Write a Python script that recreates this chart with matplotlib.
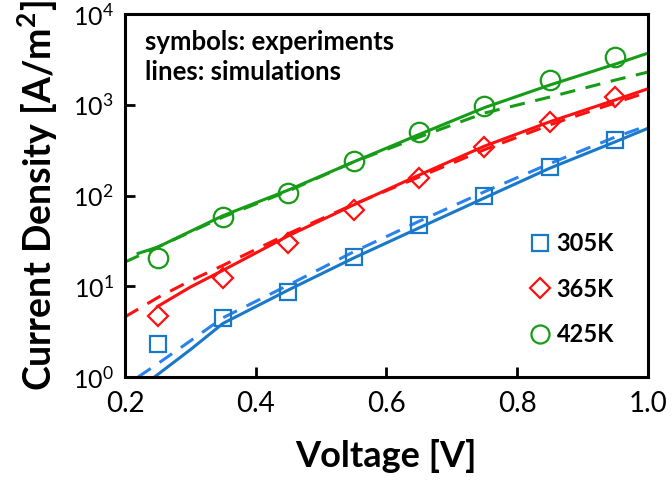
import matplotlib
matplotlib.use("Agg")
import matplotlib.pyplot as plt
from matplotlib.lines import Line2D

plt.rcParams["font.family"] = ["Lato", "DejaVu Sans"]
plt.rcParams["mathtext.fontset"] = "custom"
plt.rcParams["mathtext.rm"] = "Lato"
plt.rcParams["mathtext.bf"] = "Lato:bold"

# Experiments (symbols)
v_exp = [0.25, 0.35, 0.45, 0.55, 0.65, 0.75, 0.85, 0.95]
j_305 = [2.3, 4.5, 8.6, 21, 47, 100, 206, 409]
j_365 = [4.7, 12.3, 30, 69, 156, 342, 645, 1217]
j_425 = [20.5, 58, 107, 240, 500, 968, 1870, 3360]

# Simulations (solid and dashed lines)
v_305_solid = [0.245, 0.30, 0.35, 0.45, 0.55, 0.65, 0.75, 0.85, 0.95, 1.0]
j_305_solid = [1.0, 2.0, 3.9, 9.1, 20.5, 44, 94, 200, 390, 550]
v_305_dash = [0.22, 0.25, 0.30, 0.35, 0.45, 0.55, 0.65, 0.75, 0.85, 0.95, 1.0]
j_305_dash = [1.0, 1.4, 2.5, 4.5, 10.3, 24, 52, 110, 225, 440, 590]

v_365_solid = [0.25, 0.30, 0.35, 0.45, 0.55, 0.65, 0.75, 0.85, 0.95, 1.0]
j_365_solid = [6.0, 9.8, 15, 36, 79, 168, 350, 650, 1130, 1500]
v_365_dash = [0.20, 0.25, 0.30, 0.35, 0.45, 0.55, 0.65, 0.75, 0.85, 0.95, 1.0]
j_365_dash = [4.6, 7.5, 11.5, 17, 38, 80, 160, 320, 600, 1050, 1380]

v_425_solid = [0.22, 0.25, 0.35, 0.45, 0.55, 0.65, 0.75, 0.85, 0.95, 1.0]
j_425_solid = [23, 27, 60, 115, 235, 470, 930, 1650, 2800, 3700]
v_425_dash = [0.20, 0.25, 0.35, 0.45, 0.55, 0.65, 0.75, 0.85, 0.95, 1.0]
j_425_dash = [18.5, 27, 58, 112, 235, 440, 810, 1216, 1870, 2290]

labels = ["305K", "365K", "425K"]
x_ticks = [0.2, 0.4, 0.6, 0.8, 1.0]
x_ticklabels = ["0.2", "0.4", "0.6", "0.8", "1.0"]

blue, blue_dash = "#1a78c8", "#2a82ec"
red = "#ff1010"
green = "#169c16"

fig = plt.figure(figsize=(6.72, 4.97), dpi=100)
ax = fig.add_axes([0.186, 0.2414, 0.778, 0.7304])

lw = 2.2
ax.plot(v_305_solid, j_305_solid, color=blue, lw=lw)
ax.plot(v_305_dash, j_305_dash, color=blue_dash, lw=lw, dashes=(5, 3.5))
ax.plot(v_365_solid, j_365_solid, color=red, lw=lw)
ax.plot(v_365_dash, j_365_dash, color=red, lw=lw, dashes=(5, 3.5))
ax.plot(v_425_solid, j_425_solid, color=green, lw=lw)
ax.plot(v_425_dash, j_425_dash, color=green, lw=lw, dashes=(5, 3.5))

mk = dict(ls="none", mfc="none", mew=1.6)
ax.plot(v_exp, j_305, marker="s", ms=11, mec=blue, **mk)
ax.plot(v_exp, j_365, marker="D", ms=10, mec=red, **mk)
ax.plot(v_exp, j_425, marker="o", ms=14, mec=green, **mk)

ax.set_yscale("log")
ax.set_xlim(0.2, 1.0)
ax.set_ylim(1, 1e4)
ax.set_xticks(x_ticks)
ax.set_xticklabels(x_ticklabels)
ax.minorticks_off()
ax.tick_params(direction="in", length=7, width=2, labelsize=20, pad=10)
ax.tick_params(axis="y", labelsize=18, pad=8)
for s in ax.spines.values():
    s.set_linewidth(2.2)

ax.set_xlabel("Voltage [V]", fontsize=26, fontweight="bold", labelpad=16)
ax.set_ylabel(r"Current Density [A/m$^{\mathbf{2}}$]", fontsize=27,
              fontweight="bold", labelpad=9)

ax.text(0.038, 0.955, "symbols: experiments\nlines: simulations",
        transform=ax.transAxes, fontsize=18.5, fontweight="bold",
        va="top", ha="left", linespacing=1.3)

handles = [
    Line2D([], [], marker="s", ms=11, mec=blue, **mk),
    Line2D([], [], marker="D", ms=10, mec=red, **mk),
    Line2D([], [], marker="o", ms=13, mec=green, **mk),
]
ax.legend(handles, labels, loc="lower right", bbox_to_anchor=(0.935, 0.085),
          frameon=False, handlelength=0.8, handletextpad=0.3,
          labelspacing=0.95, borderpad=0, borderaxespad=0,
          prop=dict(size=17, weight="bold"))

fig.savefig("out.png", dpi=100)
